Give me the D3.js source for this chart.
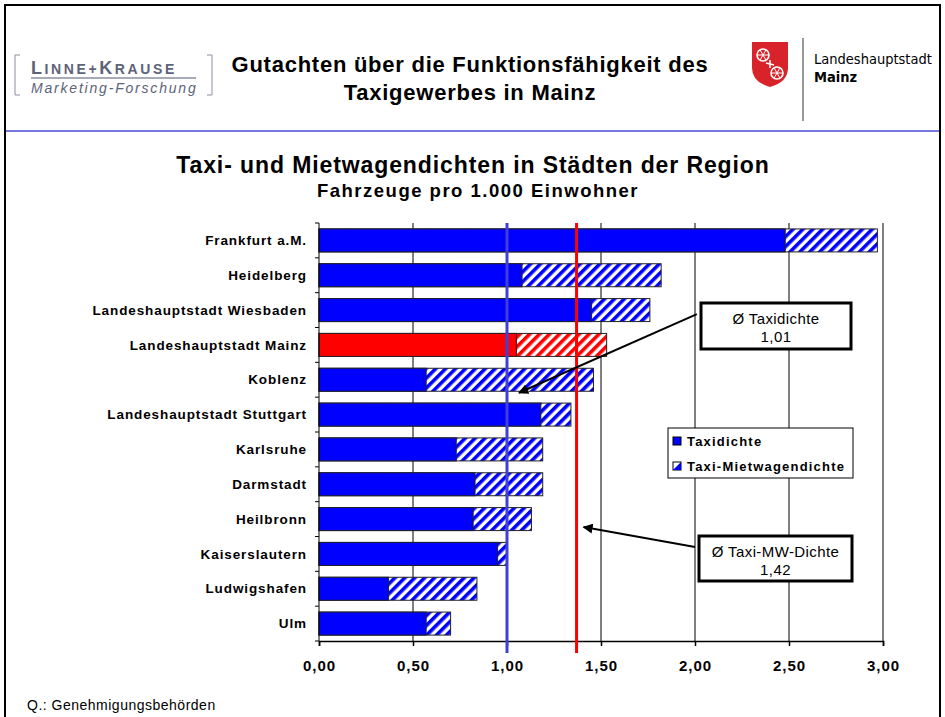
<!DOCTYPE html>
<html>
<head>
<meta charset="utf-8">
<script src="https://cdn.jsdelivr.net/npm/d3@7"></script>
<style>
	body { margin: 0; background: #fff; }
	svg { display: block; font-family: 'Liberation Sans', Arial, sans-serif; }
</style>
</head>
<body>
<div class="svg-container"></div>
<script>
const w = 945;
const h = 717;

// data
const cities = [
	'Frankfurt a.M.',
	'Heidelberg',
	'Landeshauptstadt Wiesbaden',
	'Landeshauptstadt Mainz',
	'Koblenz',
	'Landeshauptstadt Stuttgart',
	'Karlsruhe',
	'Darmstadt',
	'Heilbronn',
	'Kaiserslautern',
	'Ludwigshafen',
	'Ulm',
];
const taxiDensity = [2.48, 1.08, 1.45, 1.05, 0.57, 1.18, 0.73, 0.83, 0.82, 0.95, 0.37, 0.57];
const taxiMwDensity = [2.97, 1.82, 1.76, 1.53, 1.46, 1.34, 1.19, 1.19, 1.13, 1.0, 0.84, 0.7];
const xTicks = [0, 0.5, 1, 1.5, 2, 2.5, 3];
const avgTaxi = 1.0;
const avgTaxiMw = 1.37;
const avgTaxiLabel = '1,01';
const avgTaxiMwLabel = '1,42';
const highlight = 'Landeshauptstadt Mainz';

const svg = d3
	.select('.svg-container')
	.append('svg')
	.attr('width', w)
	.attr('height', h);

// hatch patterns
const defs = svg.append('defs');
const makeHatch = (id, color) => {
	const p = defs
		.append('pattern')
		.attr('id', id)
		.attr('patternUnits', 'userSpaceOnUse')
		.attr('width', 7)
		.attr('height', 7)
		.attr('patternTransform', 'rotate(45)');
	p.append('rect').attr('width', 7).attr('height', 7).attr('fill', '#fff');
	p.append('rect').attr('width', 3.6).attr('height', 7).attr('fill', color);
};
makeHatch('hatch-blue', '#0000ff');
makeHatch('hatch-red', '#ff0000');

defs
	.append('marker')
	.attr('id', 'arrow')
	.attr('viewBox', '0 0 10 10')
	.attr('refX', 9)
	.attr('refY', 5)
	.attr('markerWidth', 5)
	.attr('markerHeight', 5)
	.attr('orient', 'auto')
	.append('path')
	.attr('d', 'M0,0 L10,5 L0,10 z')
	.attr('fill', '#000');

// page frame
svg
	.append('rect')
	.attr('x', 5)
	.attr('y', 5)
	.attr('width', 935)
	.attr('height', 730)
	.attr('fill', 'none')
	.attr('stroke', '#000')
	.attr('stroke-width', 2);

svg
	.append('line')
	.attr('x1', 6)
	.attr('x2', 939)
	.attr('y1', 131)
	.attr('y2', 131)
	.attr('stroke', '#7878e0')
	.attr('stroke-width', 2);

// left logo
const logo = svg.append('g').attr('fill', '#5d6379');
logo
	.append('path')
	.attr('d', 'M20,55 H15 V95 H20 M207,55 H212 V95 H207')
	.attr('fill', 'none')
	.attr('stroke', '#8a8fa0')
	.attr('stroke-width', 1);
const lk = logo
	.append('text')
	.attr('x', 31)
	.attr('y', 74)
	.style('font-weight', 'bold')
	.style('letter-spacing', '2.6px');
[['L', 18], ['INNE+', 14], ['K', 18], ['RAUSE', 14]].forEach(([t, s]) =>
	lk.append('tspan').style('font-size', s + 'px').text(t)
);
logo
	.append('line')
	.attr('x1', 31)
	.attr('x2', 196)
	.attr('y1', 78)
	.attr('y2', 78)
	.attr('stroke', '#8a8fa0')
	.attr('stroke-width', 1.5);
logo
	.append('text')
	.attr('x', 31)
	.attr('y', 93)
	.style('font-size', '14px')
	.style('font-style', 'italic')
	.style('letter-spacing', '1.8px')
	.text('Marketing-Forschung');

// header title
const headerTitle = ['Gutachten über die Funktionsfähigkeit des', 'Taxigewerbes in Mainz'];
headerTitle.forEach((t, i) =>
	svg
		.append('text')
		.attr('x', 470)
		.attr('y', 72 + i * 28)
		.style('text-anchor', 'middle')
		.style('font-size', '22px')
		.style('font-weight', 'bold')
		.style('letter-spacing', '0.75px')
		.text(t)
);

// right logo (Mainz)
const mz = svg.append('g');
mz.append('path')
	.attr('d', 'M752,42 H788 V68 Q788,82 770,87 Q752,82 752,68 Z')
	.attr('fill', '#d9232a');
[[763, 55], [777, 73]].forEach(([cx, cy]) => {
	mz.append('circle')
		.attr('cx', cx)
		.attr('cy', cy)
		.attr('r', 6)
		.attr('fill', 'none')
		.attr('stroke', '#fff')
		.attr('stroke-width', 1.6);
	[0, 60, 120].forEach(a =>
		mz.append('line')
			.attr('x1', cx - 6 * Math.cos((a * Math.PI) / 180))
			.attr('y1', cy - 6 * Math.sin((a * Math.PI) / 180))
			.attr('x2', cx + 6 * Math.cos((a * Math.PI) / 180))
			.attr('y2', cy + 6 * Math.sin((a * Math.PI) / 180))
			.attr('stroke', '#fff')
			.attr('stroke-width', 1)
	);
});
mz.append('path')
	.attr('d', 'M766,63 L774,65 M770,60 L770,68')
	.attr('stroke', '#fff')
	.attr('stroke-width', 1.5);
mz.append('line')
	.attr('x1', 803)
	.attr('x2', 803)
	.attr('y1', 38)
	.attr('y2', 121)
	.attr('stroke', '#333')
	.attr('stroke-width', 1);
mz.append('text')
	.attr('x', 814)
	.attr('y', 64)
	.style('font-family', "'DejaVu Sans Condensed', 'DejaVu Sans', sans-serif")
	.style('font-stretch', 'condensed')
	.style('font-size', '14.5px')
	.text('Landeshauptstadt');
mz.append('text')
	.attr('x', 814)
	.attr('y', 82)
	.style('font-family', "'DejaVu Sans Condensed', 'DejaVu Sans', sans-serif")
	.style('font-stretch', 'condensed')
	.style('font-size', '14.5px')
	.style('font-weight', 'bold')
	.text('Mainz');

// chart titles
svg
	.append('text')
	.attr('x', 473)
	.attr('y', 173)
	.style('text-anchor', 'middle')
	.style('font-size', '23px')
	.style('font-weight', 'bold')
	.style('letter-spacing', '0.9px')
	.text('Taxi- und Mietwagendichten in Städten der Region');
svg
	.append('text')
	.attr('x', 478)
	.attr('y', 197)
	.style('text-anchor', 'middle')
	.style('font-size', '18.5px')
	.style('font-weight', 'bold')
	.style('letter-spacing', '1.5px')
	.text('Fahrzeuge pro 1.000 Einwohner');

// scales
const plot = {left: 319, right: 883, top: 223, bottom: 641};

const xScale = d3.scaleLinear().domain([0, 3]).range([plot.left, plot.right]);

const yScale = d3
	.scaleBand()
	.domain(cities)
	.range([plot.top, plot.bottom])
	.paddingInner(0.34)
	.paddingOuter(0.17);

// gridlines
svg
	.append('g')
	.selectAll('line')
	.data(xTicks.slice(1))
	.enter()
	.append('line')
	.attr('x1', d => xScale(d))
	.attr('x2', d => xScale(d))
	.attr('y1', plot.top)
	.attr('y2', plot.bottom)
	.attr('stroke', '#000')
	.attr('stroke-width', 1);

const rows = cities.map((c, i) => ({
	city: c,
	taxi: taxiDensity[i],
	total: taxiMwDensity[i],
}));

// hatched total bars first, solid taxi bars on top
svg
	.append('g')
	.selectAll('rect')
	.data(rows)
	.enter()
	.append('rect')
	.attr('x', xScale(0))
	.attr('y', d => yScale(d.city))
	.attr('width', d => xScale(d.total) - xScale(0))
	.attr('height', yScale.bandwidth())
	.attr('fill', d => (d.city === highlight ? 'url(#hatch-red)' : 'url(#hatch-blue)'))
	.attr('stroke', '#222')
	.attr('stroke-width', 1);

svg
	.append('g')
	.selectAll('rect')
	.data(rows)
	.enter()
	.append('rect')
	.attr('x', xScale(0))
	.attr('y', d => yScale(d.city))
	.attr('width', d => xScale(d.taxi) - xScale(0))
	.attr('height', yScale.bandwidth())
	.attr('fill', d => (d.city === highlight ? '#ff0000' : '#0000ff'))
	.attr('stroke', '#222')
	.attr('stroke-width', 1);

// y axis with ticks between categories
const yAxisG = svg.append('g');
yAxisG
	.append('line')
	.attr('x1', plot.left)
	.attr('x2', plot.left)
	.attr('y1', plot.top)
	.attr('y2', plot.bottom)
	.attr('stroke', '#000');
yAxisG
	.selectAll('.ytick')
	.data(d3.range(cities.length + 1))
	.enter()
	.append('line')
	.attr('x1', plot.left - 4)
	.attr('x2', plot.left)
	.attr('y1', i => plot.top + i * yScale.step())
	.attr('y2', i => plot.top + i * yScale.step())
	.attr('stroke', '#000');
yAxisG
	.selectAll('text')
	.data(cities)
	.enter()
	.append('text')
	.attr('x', plot.left - 12)
	.attr('y', d => yScale(d) + yScale.bandwidth() / 2)
	.attr('dy', '0.35em')
	.style('text-anchor', 'end')
	.style('font-size', '13.5px')
	.style('font-weight', 'bold')
	.style('letter-spacing', '0.9px')
	.text(d => d);

// x axis
const xAxis = d3
	.axisBottom(xScale)
	.tickValues(xTicks)
	.tickSize(5)
	.tickPadding(14)
	.tickFormat(d => d.toFixed(2).replace('.', ','));

const xAxisG = svg
	.append('g')
	.attr('transform', `translate(0, ${plot.bottom})`)
	.call(xAxis);
xAxisG.select('.domain').attr('stroke', '#000').attr('stroke-width', 1.5);
xAxisG.selectAll('.tick line').attr('stroke', '#000').attr('stroke-width', 1.5);
xAxisG
	.selectAll('.tick text')
	.style('font-family', "'Liberation Sans', Arial, sans-serif")
	.style('font-size', '15px')
	.style('font-weight', 'bold')
	.style('letter-spacing', '1px')
	.attr('fill', '#000');

// average lines
svg
	.append('line')
	.attr('x1', xScale(avgTaxi))
	.attr('x2', xScale(avgTaxi))
	.attr('y1', plot.top)
	.attr('y2', plot.bottom + 12)
	.attr('stroke', '#4040d8')
	.attr('stroke-width', 3);
svg
	.append('line')
	.attr('x1', xScale(avgTaxiMw))
	.attr('x2', xScale(avgTaxiMw))
	.attr('y1', plot.top)
	.attr('y2', plot.bottom + 12)
	.attr('stroke', '#ff0000')
	.attr('stroke-width', 3);

// legend
const legend = svg.append('g').attr('id', 'legend');
legend
	.append('rect')
	.attr('x', 668)
	.attr('y', 428)
	.attr('width', 185)
	.attr('height', 50)
	.attr('fill', '#fff')
	.attr('stroke', '#000');
legend
	.append('rect')
	.attr('x', 673)
	.attr('y', 437)
	.attr('width', 8)
	.attr('height', 8)
	.attr('fill', '#0000ff')
	.attr('stroke', '#000');
legend
	.append('rect')
	.attr('x', 673)
	.attr('y', 462)
	.attr('width', 8)
	.attr('height', 8)
	.attr('fill', '#fff')
	.attr('stroke', '#000');
legend
	.append('path')
	.attr('d', 'M681,462 V470 H673 Z')
	.attr('fill', '#0000ff');
[['Taxidichte', 446], ['Taxi-Mietwagendichte', 471]].forEach(([t, y]) =>
	legend
		.append('text')
		.attr('x', 687)
		.attr('y', y)
		.style('font-size', '13px')
		.style('font-weight', 'bold')
		.style('letter-spacing', '1.2px')
		.text(t)
);

// callouts
const callout = (bx, by, bw, bh, lines, fromX, fromY, toX, toY) => {
	svg
		.append('line')
		.attr('x1', fromX)
		.attr('y1', fromY)
		.attr('x2', toX)
		.attr('y2', toY)
		.attr('stroke', '#000')
		.attr('stroke-width', 2)
		.attr('marker-end', 'url(#arrow)');
	const g = svg.append('g');
	g.append('rect')
		.attr('x', bx)
		.attr('y', by)
		.attr('width', bw)
		.attr('height', bh)
		.attr('fill', '#fff')
		.attr('stroke', '#000')
		.attr('stroke-width', 3);
	lines.forEach((t, i) =>
		g
			.append('text')
			.attr('x', bx + bw / 2)
			.attr('y', by + 21 + i * 18)
			.style('text-anchor', 'middle')
			.style('font-size', '15px')
			.style('letter-spacing', '0.4px')
			.text(t)
	);
};

const mid = c => yScale(c) + yScale.bandwidth() / 2;

callout(
	701, 303, 150, 46,
	['Ø Taxidichte', avgTaxiLabel],
	xScale(2.01), mid('Landeshauptstadt Wiesbaden') + 4,
	xScale(avgTaxi) + 12, mid('Koblenz') + 13
);
callout(
	699, 536, 153, 45,
	['Ø Taxi-MW-Dichte', avgTaxiMwLabel],
	xScale(2.0), mid('Kaiserslautern') - 7,
	xScale(avgTaxiMw) + 7, mid('Heilbronn') + 8
);

// source
svg
	.append('text')
	.attr('x', 27)
	.attr('y', 710)
	.style('font-size', '14px')
	.style('letter-spacing', '0.5px')
	.text('Q.: Genehmigungsbehörden');
</script>
</body>
</html>
